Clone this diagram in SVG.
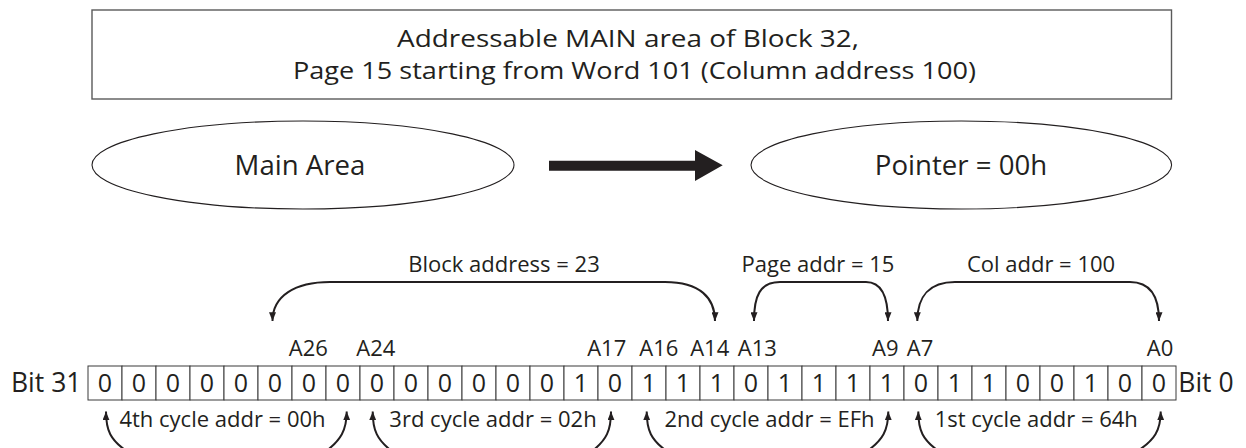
<svg xmlns="http://www.w3.org/2000/svg" width="1246" height="448" viewBox="0 0 1246 448">
  <defs>
    <style>
      text { font-family: "Open Sans", "Noto Sans", "Liberation Sans", sans-serif; fill: #231f20; }
      .big { font-size: 23.8px; text-anchor: middle; }
      .oval-text { font-size: 27.6px; text-anchor: middle; }
      .bit { font-size: 25px; text-anchor: middle; }
      .side { font-size: 26.5px; }
      .lbl { font-size: 22px; text-anchor: middle; }
      .addr { font-size: 22px; text-anchor: middle; }
      .frame { fill: #fff; stroke: #5a5a5a; stroke-width: 1.4; }
      .oval { fill: #fff; stroke: #231f20; stroke-width: 1.1; }
      .cell { fill: #fff; stroke: #3a3a3a; stroke-width: 1; }
      .brace { fill: none; stroke: #231f20; stroke-width: 2; marker-start: url(#tip); marker-end: url(#tip); }
    </style>
    <marker id="tip" viewBox="0 0 10 8" refX="10" refY="4" markerWidth="9" markerHeight="7" markerUnits="userSpaceOnUse" orient="auto-start-reverse">
      <path d="M0,0 L10,4 L0,8 Z" fill="#231f20"/>
    </marker>
  </defs>

  <!-- title box -->
  <g id="title">
    <rect class="frame" x="92" y="10" width="1079.5" height="89"/>
    <text class="big"><tspan x="628" y="46.7" textLength="462" lengthAdjust="spacingAndGlyphs">Addressable MAIN area of Block 32,</tspan><tspan x="634.5" y="79.3" textLength="683" lengthAdjust="spacingAndGlyphs">Page 15 starting from Word 101 (Column address 100)</tspan></text>
  </g>

  <!-- source and result ovals -->
  <g id="main-area">
    <ellipse class="oval" cx="303" cy="165" rx="211" ry="44"/>
    <text class="oval-text" x="300" y="175">Main Area</text>
  </g>
  <g id="pointer">
    <ellipse class="oval" cx="961.3" cy="165" rx="210.3" ry="44"/>
    <text class="oval-text" x="961" y="175">Pointer = 00h</text>
  </g>

  <!-- 32-bit address word -->
  <g id="address-word">
    <text class="side" x="11" y="392">Bit 31</text>
    <text class="side" x="1178.3" y="392">Bit 0</text>
    <g id="cells">
      <rect class="cell" x="88" y="366" width="34" height="34"/>
      <rect class="cell" x="122" y="366" width="34" height="34"/>
      <rect class="cell" x="156" y="366" width="34" height="34"/>
      <rect class="cell" x="190" y="366" width="34" height="34"/>
      <rect class="cell" x="224" y="366" width="34" height="34"/>
      <rect class="cell" x="258" y="366" width="34" height="34"/>
      <rect class="cell" x="292" y="366" width="34" height="34"/>
      <rect class="cell" x="326" y="366" width="34" height="34"/>
      <rect class="cell" x="360" y="366" width="34" height="34"/>
      <rect class="cell" x="394" y="366" width="34" height="34"/>
      <rect class="cell" x="428" y="366" width="34" height="34"/>
      <rect class="cell" x="462" y="366" width="34" height="34"/>
      <rect class="cell" x="496" y="366" width="34" height="34"/>
      <rect class="cell" x="530" y="366" width="34" height="34"/>
      <rect class="cell" x="564" y="366" width="34" height="34"/>
      <rect class="cell" x="598" y="366" width="34" height="34"/>
      <rect class="cell" x="632" y="366" width="34" height="34"/>
      <rect class="cell" x="666" y="366" width="34" height="34"/>
      <rect class="cell" x="700" y="366" width="34" height="34"/>
      <rect class="cell" x="734" y="366" width="34" height="34"/>
      <rect class="cell" x="768" y="366" width="34" height="34"/>
      <rect class="cell" x="802" y="366" width="34" height="34"/>
      <rect class="cell" x="836" y="366" width="34" height="34"/>
      <rect class="cell" x="870" y="366" width="34" height="34"/>
      <rect class="cell" x="904" y="366" width="34" height="34"/>
      <rect class="cell" x="938" y="366" width="34" height="34"/>
      <rect class="cell" x="972" y="366" width="34" height="34"/>
      <rect class="cell" x="1006" y="366" width="34" height="34"/>
      <rect class="cell" x="1040" y="366" width="34" height="34"/>
      <rect class="cell" x="1074" y="366" width="34" height="34"/>
      <rect class="cell" x="1108" y="366" width="34" height="34"/>
      <rect class="cell" x="1142" y="366" width="34" height="34"/>
    </g>
    <g id="bits">
      <text class="bit" x="105" y="392">0</text>
      <text class="bit" x="139" y="392">0</text>
      <text class="bit" x="173" y="392">0</text>
      <text class="bit" x="207" y="392">0</text>
      <text class="bit" x="241" y="392">0</text>
      <text class="bit" x="275" y="392">0</text>
      <text class="bit" x="309" y="392">0</text>
      <text class="bit" x="343" y="392">0</text>
      <text class="bit" x="377" y="392">0</text>
      <text class="bit" x="411" y="392">0</text>
      <text class="bit" x="445" y="392">0</text>
      <text class="bit" x="479" y="392">0</text>
      <text class="bit" x="513" y="392">0</text>
      <text class="bit" x="547" y="392">0</text>
      <text class="bit" x="581" y="392">1</text>
      <text class="bit" x="615" y="392">0</text>
      <text class="bit" x="649" y="392">1</text>
      <text class="bit" x="683" y="392">1</text>
      <text class="bit" x="717" y="392">1</text>
      <text class="bit" x="751" y="392">0</text>
      <text class="bit" x="785" y="392">1</text>
      <text class="bit" x="819" y="392">1</text>
      <text class="bit" x="853" y="392">1</text>
      <text class="bit" x="887" y="392">1</text>
      <text class="bit" x="921" y="392">0</text>
      <text class="bit" x="955" y="392">1</text>
      <text class="bit" x="989" y="392">1</text>
      <text class="bit" x="1023" y="392">0</text>
      <text class="bit" x="1057" y="392">0</text>
      <text class="bit" x="1091" y="392">1</text>
      <text class="bit" x="1125" y="392">0</text>
      <text class="bit" x="1159" y="392">0</text>
    </g>
  </g>

  <!-- address line labels above the word -->
  <g id="address-lines">
    <text class="addr" x="308.3" y="356">A26</text>
    <text class="addr" x="375.8" y="356">A24</text>
    <text class="addr" x="606.7" y="356">A17</text>
    <text class="addr" x="658.8" y="356">A16</text>
    <text class="addr" x="709.7" y="356">A14</text>
    <text class="addr" x="757.3" y="356">A13</text>
    <text class="addr" x="885.3" y="356">A9</text>
    <text class="addr" x="920" y="356">A7</text>
    <text class="addr" x="1160" y="356">A0</text>
  </g>

  <!-- field labels -->
  <g id="field-labels">
    <text class="lbl" x="504" y="272">Block address = 23</text>
    <text class="lbl" x="818" y="272">Page addr = 15</text>
    <text class="lbl" x="1041" y="272">Col addr = 100</text>
    <text class="lbl" x="222.5" y="427">4th cycle addr = 00h</text>
    <text class="lbl" x="493" y="427">3rd cycle addr = 02h</text>
    <text class="lbl" x="769.5" y="427">2nd cycle addr = EFh</text>
    <text class="lbl" x="1036.3" y="427">1st cycle addr = 64h</text>
  </g>

  <!-- connectors: shift arrow and field braces -->
  <g id="connectors">
    <path d="M549,160.7 H695 V150 L722.7,165.3 L695,181 V170.7 H549 Z" fill="#231f20"/>

    <path class="brace" d="M272.5,321 C272.5,296 295,282 330,282 L665,282 C700,282 715,298 715,321"/>
    <path class="brace" d="M754,321 C754,296 760,282 780,282 L866,282 C882,282 888,297 888,321"/>
    <path class="brace" d="M917.3,321 C917.3,296 930,282 955,282 L1130,282 C1150,282 1159,296 1159,321"/>

    <path class="brace" d="M106,411.5 C106,430 110,440 128,452 L325,452 C341,440 346.7,430 346.7,411.5"/>
    <path class="brace" d="M372.7,411.5 C372.7,430 376.7,440 393,452 L591,452 C607,440 611,430 611,411.5"/>
    <path class="brace" d="M646.7,411.5 C646.7,430 650.7,440 668,452 L866,452 C883,440 888.3,430 888.3,411.5"/>
    <path class="brace" d="M918.3,411.5 C918.3,430 922.3,440 940,452 L1136,452 C1155,440 1160.7,430 1160.7,411.5"/>
  </g>
</svg>
